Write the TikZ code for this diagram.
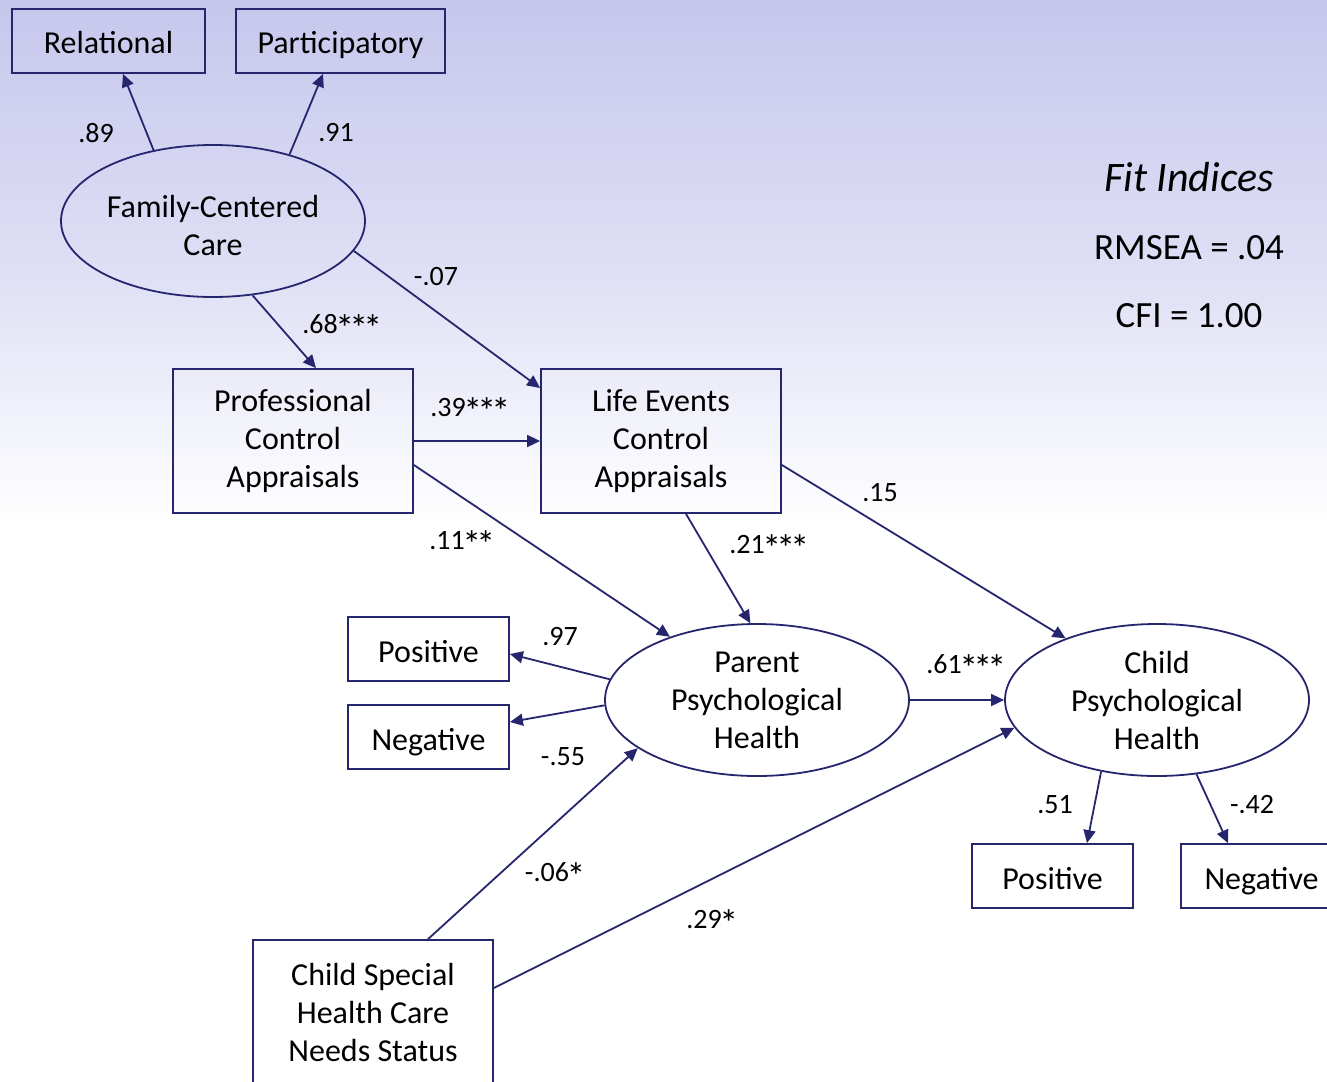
\documentclass[tikz,border=0pt]{standalone}
\usepackage{fontspec}
\usepackage{graphicx}
\setmainfont{Carlito}
\usetikzlibrary{shapes.geometric,arrows.meta,calc}
\definecolor{navy}{RGB}{38,38,110}
\definecolor{lavtop}{RGB}{199,199,237}
\definecolor{lavmid}{RGB}{222,222,245}
\newcommand\onest{\makebox[0.5em]{\raisebox{-0.28em}[0pt][0pt]{\scalebox{1.35}{*}}}}
\newcommand\lowr[1]{\raisebox{-5pt}[\height][\depth]{#1}}
\tikzset{
  boxnode/.style={draw=navy,line width=1.8pt,rectangle,inner sep=0pt,align=center,font=\fontsize{32}{38}\selectfont},
  onebox/.style={boxnode,minimum width=161pt,minimum height=64pt,text height=26pt,text depth=0pt},
  latent/.style={draw=navy,line width=1.8pt,ellipse,inner sep=0pt,minimum width=304pt,minimum height=152pt,align=center,font=\fontsize{32}{38}\selectfont},
  conn/.style={draw=navy,line width=1.8pt,-{Triangle[length=13pt,width=12pt]}},
  lab/.style={font=\fontsize{28}{33}\selectfont,inner sep=0pt},
  fit/.style={font=\fontsize{37}{44}\selectfont,inner sep=0pt}
}
\begin{document}
\begin{tikzpicture}[x=1pt,y=-1pt]
\useasboundingbox (0,0) rectangle (1327,1081);
\clip (0,0) rectangle (1327,1081);
\fill[white] (0,0) rectangle (1327,1081);
\shade[top color=lavtop,bottom color=white,middle color=lavmid] (0,0) rectangle (1327,525);

% nodes
\node[onebox,minimum width=193pt] (rel) at (108.5,41) {Relational};
\node[onebox,minimum width=209pt] (par) at (340.5,41) {Participatory};
\node[latent] (fcc) at (213,221) {\lowr{Family-Centered}\\\lowr{Care}};
\node[boxnode,minimum width=240pt,minimum height=144pt] (pca) at (293,441) {Professional\\Control\\Appraisals};
\node[boxnode,minimum width=240pt,minimum height=144pt] (lec) at (661,441) {Life Events\\Control\\Appraisals};
\node[onebox] (posL) at (428.5,649) {Positive};
\node[onebox] (negL) at (428.5,737) {Negative};
\node[latent] (pph) at (757,700) {Parent\\Psychological\\Health};
\node[latent] (cph) at (1157,700) {Child\\Psychological\\Health};
\node[onebox] (posR) at (1052.5,876) {Positive};
\node[onebox] (negR) at (1261.5,876) {Negative};
\node[boxnode,minimum width=240pt,minimum height=144pt] (csh) at (373,1012) {Child Special\\Health Care\\Needs Status};

% fit indices
\node[fit,font=\fontsize{42}{48}\selectfont\itshape] (fiti) at (1189,177) {Fit Indices};
\node[fit] (rmsea) at (1189,248) {RMSEA = .04};
\node[fit] (cfi) at (1189,316) {CFI = 1.00};

% connectors
\draw[conn] (fcc.130) -- ([xshift=14.5pt]rel.south);
\draw[conn] (fcc.41) -- ([xshift=-17.5pt]par.south);
\draw[conn] (fcc.-12) -- ([yshift=53pt]lec.west);
\draw[conn] (fcc.-62) -- ([xshift=23pt]pca.north);
\draw[conn] (pca.east) -- (lec.west);
\draw[conn] ([yshift=-24pt]pca.east) -- (pph.144);
\draw[conn] ([xshift=25pt]lec.south) -- (pph.95);
\draw[conn] ([yshift=-24pt]lec.east) -- (cph.146);
\draw[conn] (pph.172) -- ([yshift=-5pt]posL.east);
\draw[conn] (pph.182) -- ([yshift=15pt]negL.east);
\draw[conn] ([xshift=55pt]csh.north) -- (pph.202);
\draw[conn] ([yshift=24pt]csh.east) -- (cph.191.6);
\draw[conn] (pph.east) -- (cph.west);
\draw[conn] (cph.232) -- ([xshift=34.5pt]posR.north);
\draw[conn] (cph.-62) -- ([xshift=-33.5pt]negR.north);

% labels
\node[lab] (l1) at (96,133) {.89};
\node[lab] (l2) at (336,133) {.91};
\node[lab] (l3) at (436,277) {-.07};
\node[lab] (l4) at (341,324) {.68\onest\onest\onest};
\node[lab] (l5) at (469,408) {.39\onest\onest\onest};
\node[lab] (l6) at (461,541) {.11\onest\onest};
\node[lab] (l7) at (768,545) {.21\onest\onest\onest};
\node[lab] (l8) at (880,493) {.15};
\node[lab] (l9) at (560,637) {.97};
\node[lab] (l10) at (563,757) {-.55};
\node[lab] (l11) at (965,664) {.61\onest\onest\onest};
\node[lab] (l12) at (554,872) {-.06\onest};
\node[lab] (l13) at (711,920) {.29\onest};
\node[lab] (l14) at (1055,805) {.51};
\node[lab] (l15) at (1252,805) {-.42};
\end{tikzpicture}
\end{document}
